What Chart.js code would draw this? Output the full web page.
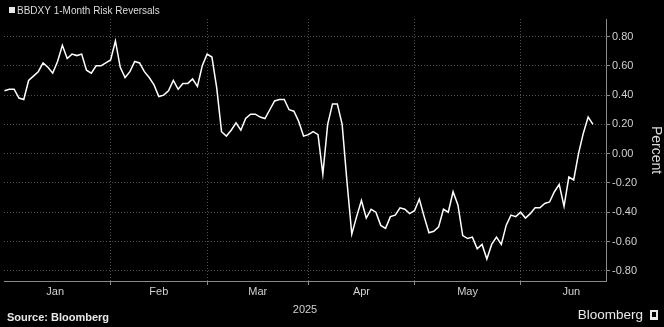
<!DOCTYPE html>
<html>
<head>
<meta charset="utf-8">
<script src="https://cdn.jsdelivr.net/npm/chart.js@4.4.1/dist/chart.umd.min.js"></script>
<style>
  html, body { margin: 0; padding: 0; background: #000; }
  #wrap { width: 664px; height: 327px; position: relative; }
</style>
</head>
<body>
<div id="wrap"><canvas id="chart"></canvas></div>
<script>
const seriesName = "BBDXY 1-Month Risk Reversals";
// x is the trading-day index counted from Jan 1 2025 (weekdays only)
const startDay = 1;
const values = [
  0.43, 0.44, 0.44, 0.38, 0.37, 0.50, 0.53, 0.56, 0.62, 0.59,
  0.55, 0.63, 0.74, 0.65, 0.68, 0.67, 0.68, 0.57, 0.55, 0.60,
  0.60, 0.62, 0.64, 0.77, 0.59, 0.52, 0.56, 0.63, 0.62, 0.56,
  0.52, 0.47, 0.39, 0.40, 0.43, 0.50, 0.44, 0.48, 0.48, 0.51,
  0.46, 0.60, 0.68, 0.66, 0.45, 0.15, 0.12, 0.16, 0.21, 0.16,
  0.24, 0.27, 0.27, 0.25, 0.24, 0.30, 0.36, 0.37, 0.37, 0.30,
  0.29, 0.22, 0.12, 0.13, 0.15, 0.13, -0.14, 0.20, 0.34, 0.34,
  0.20, -0.19, -0.55, -0.43, -0.32, -0.44, -0.38, -0.40, -0.49, -0.51,
  -0.43, -0.42, -0.37, -0.38, -0.41, -0.39, -0.31, -0.43, -0.54, -0.53,
  -0.50, -0.38, -0.40, -0.26, -0.35, -0.56, -0.58, -0.57, -0.65, -0.62,
  -0.72, -0.62, -0.57, -0.62, -0.49, -0.42, -0.43, -0.40, -0.44, -0.41,
  -0.37, -0.37, -0.34, -0.33, -0.26, -0.21, -0.36, -0.16, -0.18, 0.00,
  0.14, 0.25, 0.20
];
const monthNames = ["Jan", "Feb", "Mar", "Apr", "May", "Jun"];
const monthStarts = [23, 43, 64, 86, 108];          // Feb 1 .. Jun 2
const monthMids = [11.5, 33, 53.5, 75, 97, 118.5];  // where the month names sit
const yTicks = [-0.8, -0.7, -0.6, -0.5, -0.4, -0.3, -0.2, -0.1, 0, 0.1,
                0.2, 0.3, 0.4, 0.5, 0.6, 0.7, 0.8, 0.9];
const yearLabel = "2025";
const yAxisTitle = "Percent";
const sourceText = "Source: Bloomberg";
const brandText = "Bloomberg";

const FONT = "'Liberation Sans', Arial, sans-serif";
const isMajorY = v => Math.round(v * 10) % 2 === 0;

const points = values.map((v, i) => ({ x: startDay + i, y: v }));

// legend square + title at the top, source and brand at the bottom
const headerFooter = {
  id: "headerFooter",
  afterDraw(chart) {
    const ctx = chart.ctx;
    ctx.save();
    ctx.fillStyle = "#e8e8e8";
    ctx.fillRect(9, 7, 6, 6);
    ctx.font = "10px " + FONT;
    ctx.textBaseline = "middle";
    ctx.fillStyle = "#dcdcdc";
    ctx.fillText(chart.data.datasets[0].label, 17, 11);

    ctx.font = "bold 11px " + FONT;
    ctx.fillStyle = "#e8e8e8";
    ctx.fillText(sourceText, 7, 318);

    ctx.font = "13.5px " + FONT;
    ctx.textAlign = "right";
    ctx.fillText(brandText, 643, 315);
    // small brand badge
    ctx.fillRect(650, 310, 8, 10);
    ctx.fillStyle = "#000";
    ctx.fillRect(652, 312, 4, 5);
    ctx.restore();
  }
};

new Chart(document.getElementById("chart"), {
  type: "line",
  data: {
    datasets: [{
      label: seriesName,
      data: points,
      borderColor: "#ffffff",
      borderWidth: 1.5,
      pointRadius: 0,
      tension: 0,
      fill: false
    }]
  },
  options: {
    responsive: true,
    maintainAspectRatio: false,
    animation: false,
    layout: { padding: { left: 4, top: 19, right: 0, bottom: 0 } },
    plugins: {
      legend: { display: false },
      tooltip: { enabled: false }
    },
    scales: {
      x: {
        type: "linear",
        min: 0.9,
        max: 125.7,
        afterBuildTicks: scale => {
          scale.ticks = monthStarts.map(v => ({ value: v }))
            .concat(monthMids.map(v => ({ value: v })))
            .sort((a, b) => a.value - b.value);
        },
        afterFit: scale => { scale.height = 46; },
        ticks: {
          autoSkip: false,
          maxRotation: 0,
          padding: 0,
          color: "#d0d0d0",
          font: { family: FONT, size: 11 },
          callback: value => {
            const i = monthMids.indexOf(value);
            return i >= 0 ? monthNames[i] : "";
          }
        },
        grid: {
          color: c => c.tick && monthStarts.includes(c.tick.value) ? "#505050" : "transparent",
          tickColor: c => c.tick && monthStarts.includes(c.tick.value) ? "#8a8a8a" : "transparent",
          tickLength: 4,
          lineWidth: 1
        },
        border: { display: true, color: "#8a8a8a", width: 1, dash: [1, 2] },
        title: {
          display: true,
          text: yearLabel,
          color: "#d0d0d0",
          font: { family: FONT, size: 11 },
          padding: { top: 0, bottom: 10 }
        }
      },
      y: {
        position: "right",
        min: -0.87,
        max: 0.92,
        afterBuildTicks: scale => {
          scale.ticks = yTicks.map(v => ({ value: v }));
        },
        afterFit: scale => { scale.width = 58; },
        ticks: {
          padding: 2,
          color: "#d0d0d0",
          font: { family: FONT, size: 11 },
          callback: value => isMajorY(value) ? value.toFixed(2) : ""
        },
        grid: {
          color: c => c.tick && isMajorY(c.tick.value) ? "#505050" : "transparent",
          tickColor: "#8a8a8a",
          tickLength: 4,
          lineWidth: 1
        },
        border: { display: true, color: "#8a8a8a", width: 1, dash: [1, 2] },
        title: {
          display: true,
          text: yAxisTitle,
          color: "#d8d8d8",
          font: { family: FONT, size: 14 },
          padding: { top: 0, bottom: 7 }
        }
      }
    }
  },
  plugins: [headerFooter]
});
</script>
</body>
</html>
